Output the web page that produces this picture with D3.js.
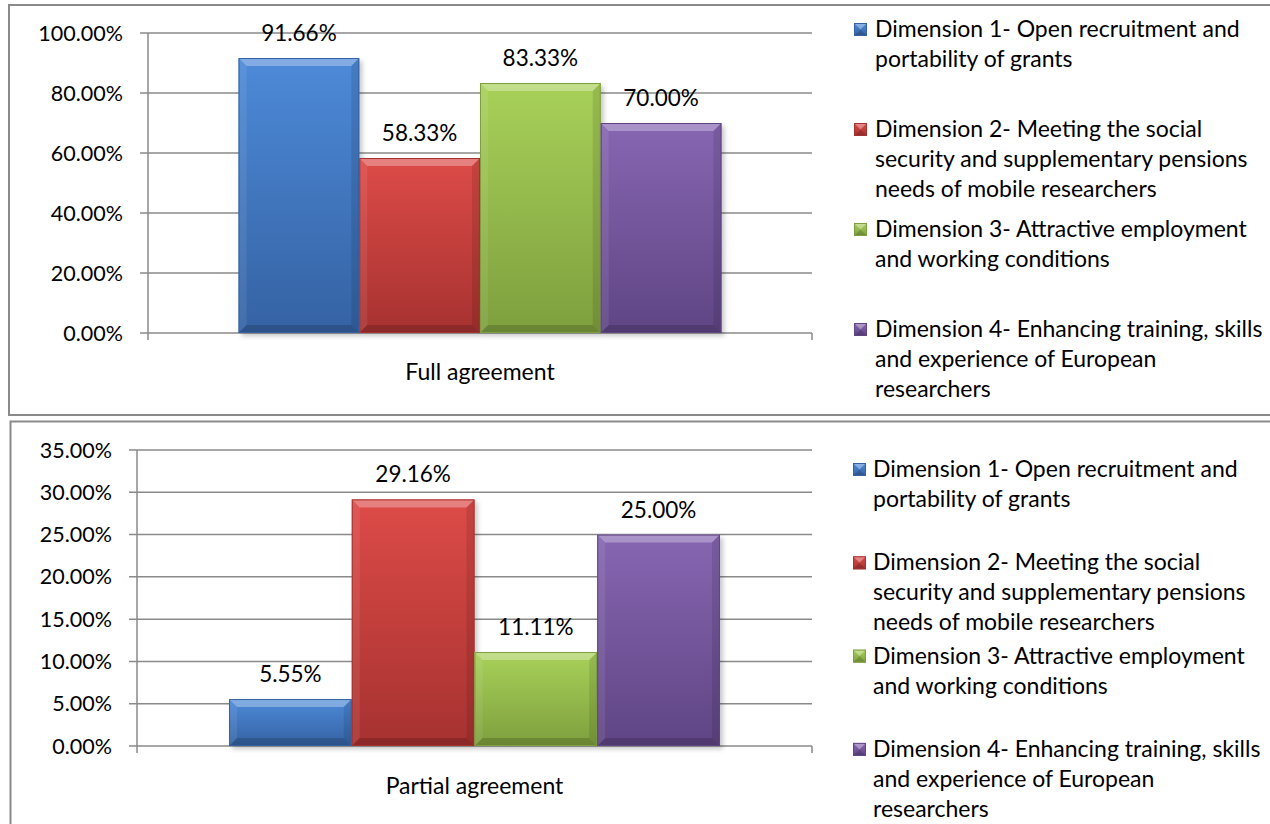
<!DOCTYPE html>
<html>
<head>
<meta charset="utf-8">
<script src="https://cdn.jsdelivr.net/npm/d3@7"></script>
<style>
  html, body { margin: 0; padding: 0; background: #fff; }
  svg { display: block; font-family: Lato, "Open Sans", sans-serif; }
</style>
</head>
<body>
<div id="chart"></div>
<script>
// data
const dimensions = ["Dimension 1", "Dimension 2", "Dimension 3", "Dimension 4"];
const legendLines = [
  ["Dimension 1- Open recruitment and", "portability of grants"],
  ["Dimension 2- Meeting the social", "security and supplementary pensions", "needs of mobile researchers"],
  ["Dimension 3- Attractive employment", "and working conditions"],
  ["Dimension 4- Enhancing training, skills", "and experience of European", "researchers"]
];
const fullCategory = "Full agreement";
const fullValues = [0.9166, 0.5833, 0.8333, 0.70];
const fullTicks = [0, 0.2, 0.4, 0.6, 0.8, 1.0];

const partialCategory = "Partial agreement";
const partialValues = [0.0555, 0.2916, 0.1111, 0.25];
const partialTicks = [0, 0.05, 0.10, 0.15, 0.20, 0.25, 0.30, 0.35];

// top / bottom colour of each bar gradient
const barColors = [
  ["#4d8ad8", "#3562a3"],
  ["#dd4b48", "#a63230"],
  ["#a8d159", "#7e9f3e"],
  ["#8766b2", "#5f4584"]
];

const W = 1270, H = 824;
const fmt = d3.format(".2%");

const svg = d3.select("#chart").append("svg")
  .attr("width", W)
  .attr("height", H);

const defs = svg.append("defs");
barColors.forEach((c, i) => {
  const g = defs.append("linearGradient")
    .attr("id", "grad" + i)
    .attr("x1", 0).attr("y1", 0).attr("x2", 0).attr("y2", 1);
  g.append("stop").attr("offset", "0%").attr("stop-color", c[0]);
  g.append("stop").attr("offset", "100%").attr("stop-color", c[1]);
});
const blur = defs.append("filter").attr("id", "shadow")
  .attr("x", "-10%").attr("y", "-10%").attr("width", "130%").attr("height", "130%");
blur.append("feGaussianBlur").attr("stdDeviation", 2.5);

function bevelBar(g, x, y, w, h, i, bev) {
  const b = Math.min(bev, h / 2, w / 2);
  // soft shadow
  g.append("rect")
    .attr("x", x + 3).attr("y", y + 3)
    .attr("width", w).attr("height", h)
    .attr("fill", "#000").attr("opacity", 0.22)
    .attr("filter", "url(#shadow)");
  g.append("rect")
    .attr("x", x).attr("y", y)
    .attr("width", w).attr("height", h)
    .attr("fill", "url(#grad" + i + ")");
  const poly = (pts, fill, op) => g.append("polygon")
    .attr("points", pts.map(p => p.join(",")).join(" "))
    .attr("fill", fill).attr("opacity", op);
  poly([[x, y], [x + w, y], [x + w - b, y + b], [x + b, y + b]], "#fff", 0.3);
  poly([[x, y + h], [x + w, y + h], [x + w - b, y + h - b], [x + b, y + h - b]], "#000", 0.16);
  poly([[x, y], [x + b, y + b], [x + b, y + h - b], [x, y + h]], "#fff", 0.08);
  poly([[x + w, y], [x + w - b, y + b], [x + w - b, y + h - b], [x + w, y + h]], "#000", 0.1);
  g.append("rect")
    .attr("x", x + 0.5).attr("y", y + 0.5)
    .attr("width", w - 1).attr("height", h - 1)
    .attr("fill", "none").attr("stroke", barColors[i][1]).attr("stroke-width", 1);
}

function bevelLegendKey(g, x, y, s, i) {
  g.append("rect")
    .attr("x", x).attr("y", y).attr("width", s).attr("height", s)
    .attr("fill", "url(#grad" + i + ")");
  const b = s / 2;
  g.append("polygon")
    .attr("points", [[x, y], [x + s, y], [x + b, y + b]].map(p => p.join(",")).join(" "))
    .attr("fill", "#fff").attr("opacity", 0.35);
  g.append("polygon")
    .attr("points", [[x, y + s], [x + s, y + s], [x + b, y + b]].map(p => p.join(",")).join(" "))
    .attr("fill", "#000").attr("opacity", 0.15);
  g.append("rect")
    .attr("x", x + 0.5).attr("y", y + 0.5).attr("width", s - 1).attr("height", s - 1)
    .attr("fill", "none").attr("stroke", barColors[i][1]);
}

function drawPanel(cfg) {
  const g = svg.append("g");

  g.append("rect")
    .attr("x", cfg.frame[0]).attr("y", cfg.frame[1])
    .attr("width", cfg.frame[2]).attr("height", cfg.frame[3])
    .attr("fill", "#fff").attr("stroke", "#8a8a8a").attr("stroke-width", 2);

  const y = d3.scaleLinear()
    .domain([0, d3.max(cfg.ticks)])
    .range([cfg.plot.bottom, cfg.plot.top]);

  const x0 = d3.scaleBand()
    .domain([cfg.category])
    .range([cfg.plot.left, cfg.plot.right]);

  // 150% gap width: bars take 4 / 5.5 of the band
  const inner = x0.bandwidth() * 4 / 5.5;
  const x1 = d3.scaleBand()
    .domain(dimensions)
    .range([x0(cfg.category) + (x0.bandwidth() - inner) / 2,
            x0(cfg.category) + (x0.bandwidth() + inner) / 2]);

  // gridlines
  g.append("g").selectAll("line")
    .data(cfg.ticks)
    .join("line")
    .attr("x1", cfg.plot.left - 8)
    .attr("x2", cfg.plot.right)
    .attr("y1", d => y(d)).attr("y2", d => y(d))
    .attr("stroke", "#8a8a8a").attr("stroke-width", 1.5);

  // y axis line with a small tail under the baseline
  g.append("line")
    .attr("x1", cfg.plot.left).attr("x2", cfg.plot.left)
    .attr("y1", cfg.plot.top).attr("y2", cfg.plot.bottom + 7)
    .attr("stroke", "#8a8a8a").attr("stroke-width", 1.5);
  g.append("line")
    .attr("x1", cfg.plot.right).attr("x2", cfg.plot.right)
    .attr("y1", cfg.plot.bottom).attr("y2", cfg.plot.bottom + 7)
    .attr("stroke", "#8a8a8a").attr("stroke-width", 1.5);

  // tick labels
  g.append("g").selectAll("text")
    .data(cfg.ticks)
    .join("text")
    .attr("x", cfg.plot.left - 25)
    .attr("y", d => y(d) + 7.5)
    .attr("text-anchor", "end")
    .attr("font-size", 21.5)
    .attr("fill", "#000")
    .text(d => fmt(d));

  // bars
  const bars = g.append("g");
  cfg.values.forEach((v, i) => {
    const bx = x1(dimensions[i]);
    bevelBar(bars, bx, y(v), x1.bandwidth(), cfg.plot.bottom - y(v), i, 8);
  });

  // value labels
  g.append("g").selectAll("text")
    .data(cfg.values)
    .join("text")
    .attr("x", (d, i) => x1(dimensions[i]) + x1.bandwidth() / 2)
    .attr("y", d => y(d) - 17)
    .attr("text-anchor", "middle")
    .attr("font-size", 22.5)
    .text(d => fmt(d));

  // category label
  g.append("text")
    .attr("x", x0(cfg.category) + x0.bandwidth() / 2)
    .attr("y", cfg.categoryY)
    .attr("text-anchor", "middle")
    .attr("font-size", 23)
    .text(cfg.category);

  // legend
  const lg = g.append("g");
  legendLines.forEach((lines, i) => {
    const base = cfg.legend.first + i * cfg.legend.step;
    bevelLegendKey(lg, cfg.legend.markerX, base - 14, 13, i);
    lg.append("text")
      .attr("x", cfg.legend.textX)
      .attr("y", base)
      .attr("font-size", 23)
      .selectAll("tspan")
      .data(lines)
      .join("tspan")
      .attr("x", cfg.legend.textX)
      .attr("dy", (d, j) => j === 0 ? 0 : cfg.legend.lineH)
      .text(d => d);
  });
}

drawPanel({
  frame: [9, 5, 1300, 410],
  plot: { left: 148, right: 812, top: 33, bottom: 333 },
  ticks: fullTicks,
  values: fullValues,
  category: fullCategory,
  categoryY: 380,
  legend: { markerX: 854, textX: 875, first: 37, step: 100, lineH: 30 }
});

drawPanel({
  frame: [10.5, 421.5, 1300, 420],
  plot: { left: 137, right: 812, top: 450, bottom: 746 },
  ticks: partialTicks,
  values: partialValues,
  category: partialCategory,
  categoryY: 794,
  legend: { markerX: 853, textX: 873, first: 477, step: 93.3, lineH: 30 }
});
</script>
</body>
</html>
